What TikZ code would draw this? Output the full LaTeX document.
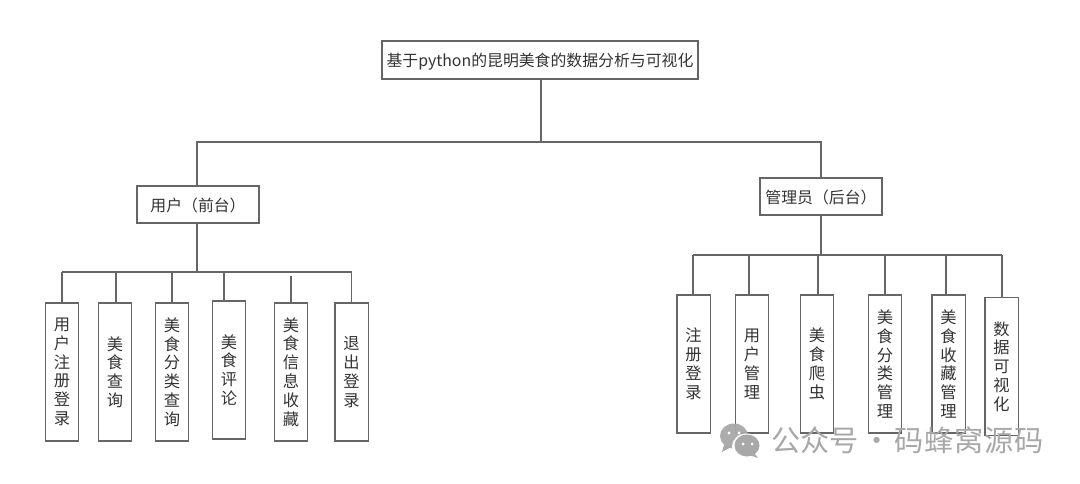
\documentclass[tikz,border=0pt]{standalone}
\usepackage{fontspec}
\setmainfont{Noto Sans CJK SC}
\tikzset{
  line/.style={draw=linegray,line width=1pt},
  hbox/.style={draw=linegray,line width=1pt,fill=white,inner sep=0pt,align=center,text=textgray,text height=11.2pt,text depth=1.4pt,font=\fontsize{11.9pt}{14pt}\selectfont},
  vbox/.style={draw=linegray,line width=1pt,inner sep=0pt,align=center,text=textgray,minimum width=25pt,minimum height=103.5pt,font=\fontsize{12.2pt}{14.1pt}\selectfont},
  mark text/.style={text=markgray,inner sep=0pt,font=\fontsize{21.9pt}{24pt}\selectfont},
}
\definecolor{linegray}{HTML}{666666}
\definecolor{textgray}{HTML}{333333}
\definecolor{markgray}{HTML}{A8A8A8}
\begin{document}
\begin{tikzpicture}[x=0.75pt,y=-0.75pt]
\useasboundingbox[fill=white] (0,0) rectangle (1080,484);
% top
\node[hbox,minimum width=237pt,minimum height=28.5pt] (root) at (540,60) {基于python的昆明美食的数据分析与可视化};
\node[hbox,minimum width=91.5pt,minimum height=27.75pt] (user) at (198,204.5) {用户（前台）};
\node[hbox,minimum width=91.5pt,minimum height=27.75pt] (admin) at (821,196.5) {管理员（后台）};
% left boxes
\node[vbox] (l1) at (62,372) {用\\户\\注\\册\\登\\录};
\node[vbox] (l2) at (115,372) {美\\食\\查\\询};
\node[vbox] (l3) at (172,372) {美\\食\\分\\类\\查\\询};
\node[vbox] (l4) at (229,370) {美\\食\\评\\论};
\node[vbox] (l5) at (291,372) {美\\食\\信\\息\\收\\藏};
\node[vbox] (l6) at (351.5,372) {退\\出\\登\\录};
% right boxes
\node[vbox] (r1) at (693.5,364) {注\\册\\登\\录};
\node[vbox] (r2) at (752,364) {用\\户\\管\\理};
\node[vbox] (r3) at (817,364) {美\\食\\爬\\虫};
\node[vbox] (r4) at (885,364) {美\\食\\分\\类\\管\\理};
\node[vbox] (r5) at (948.5,364) {美\\食\\收\\藏\\管\\理};
\node[vbox] (r6) at (1001.5,366.5) {数\\据\\可\\视\\化};
% junctions
\coordinate (stem) at (541,142);
\coordinate (topL) at (197,142);
\coordinate (topR) at (821,142);
\coordinate (lbus) at (197,272);
\coordinate (rbus) at (821,255);
\coordinate (a1) at (62,272);
\coordinate (a2) at (116,272);
\coordinate (a3) at (172,272);
\coordinate (a4) at (224,272);
\coordinate (a5) at (291,276);
\coordinate (a6) at (351.5,272);
\coordinate (b1) at (693,255);
\coordinate (b2) at (749,255);
\coordinate (b3) at (818,255);
\coordinate (b4) at (885,255);
\coordinate (b5) at (946,255);
\coordinate (b6) at (1002,255);
% connectors
\draw[line] (stem |- root.south) -- (stem);
\draw[line] (user.north -| topL) -- (topL) -- (topR) -- (topR |- admin.north);
\draw[line] (user.south -| lbus) -- (lbus);
\draw[line] (admin.south -| rbus) -- (rbus);
\draw[line] (a1) -- (a6);
\draw[line] (b1) -- (b6);
\draw[line] (a1) -- (a1 |- l1.north);
\draw[line] (a2) -- (a2 |- l2.north);
\draw[line] (a3) -- (a3 |- l3.north);
\draw[line] (a4) -- (a4 |- l4.north);
\draw[line] (a5) -- (a5 |- l5.north);
\draw[line] (a6) -- (a6 |- l6.north);
\draw[line] (b1) -- (b1 |- r1.north);
\draw[line] (b2) -- (b2 |- r2.north);
\draw[line] (b3) -- (b3 |- r3.north);
\draw[line] (b4) -- (b4 |- r4.north);
\draw[line] (b5) -- (b5 |- r5.north);
\draw[line] (b6) -- (b6 |- r6.north);
% watermark
\fill[markgray,opacity=.95] (734,436) ellipse (14 and 12.5);
\fill[markgray] (724,445) -- (722,452) -- (731,447) -- cycle;
\fill[white] (746.5,446.5) ellipse (14.5 and 13);
\fill[markgray] (747,445.5) ellipse (12.5 and 11);
\fill[markgray] (754,453) -- (758,458) -- (749,455) -- cycle;
\fill[white] (729,433) circle (1.7) (739,433) circle (1.7) (743,444) circle (1.5) (752,444) circle (1.5);
\node[mark text,anchor=west] (wm) at (771,440) {公众号\hspace{-2.5pt} · \hspace{-2.5pt}码\hspace{.6pt}蜂\hspace{.6pt}窝\hspace{.6pt}源\hspace{.6pt}码};
\end{tikzpicture}
\end{document}
